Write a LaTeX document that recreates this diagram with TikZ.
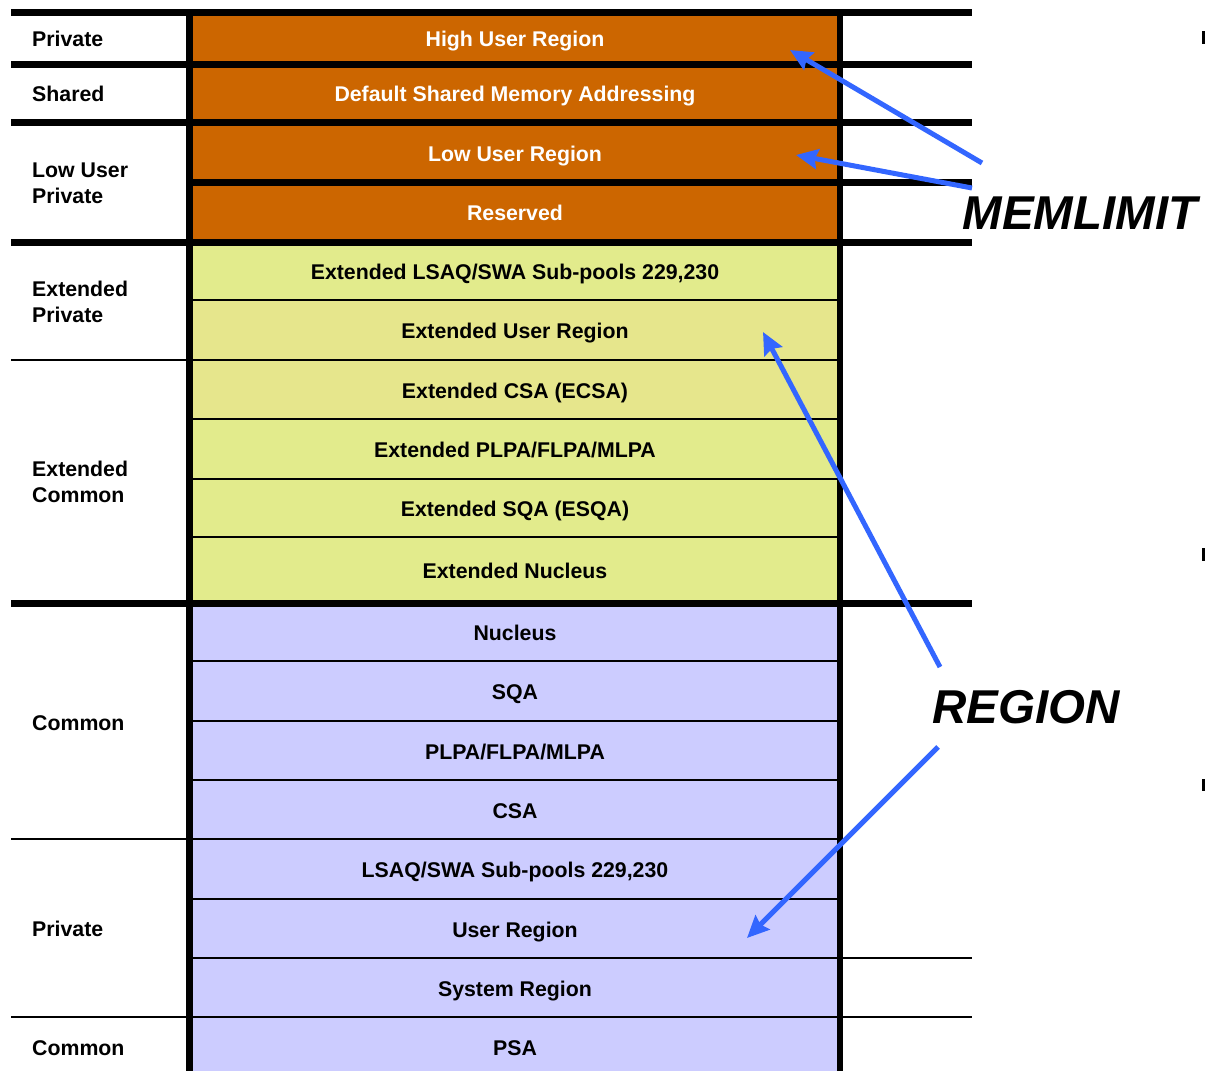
\documentclass[tikz,border=0pt]{standalone}
\usepackage{fontspec}
\setmainfont{Liberation Sans}
\usetikzlibrary{arrows.meta}

\definecolor{hiorange}{HTML}{CC6600}
\definecolor{extgreen}{HTML}{E2EB8C}
\definecolor{extsand}{HTML}{E6E68C}
\definecolor{lowblue}{HTML}{CCCCFF}
\definecolor{pointer}{HTML}{3366FF}

\newcommand{\cellfont}{\fontsize{21.3}{26}\selectfont\bfseries}
\newcommand{\bigfont}{\fontsize{47.5}{50}\selectfont\bfseries\itshape}

\tikzset{
  cell/.style={rectangle, inner sep=0pt, minimum width=650pt,
    text height=17pt, text depth=0pt, font=\cellfont},
  hicell/.style={cell, fill=hiorange, text=white},
  greencell/.style={cell, fill=extgreen},
  sandcell/.style={cell, fill=extsand},
  bluecell/.style={cell, fill=lowblue},
  side/.style={inner sep=0pt, anchor=base west, font=\cellfont},
  heavy/.style={line width=7pt},
  light/.style={line width=2.5pt},
  callout/.style={inner sep=0pt, font=\bigfont},
  pointerline/.style={draw=pointer, line width=5pt,
    -{Stealth[length=22pt, width=20pt, inset=3pt]}},
}

\begin{document}
\begin{tikzpicture}[x=1pt, y=-1pt]
\clip (0,0) rectangle (1205,1071);
\fill[white] (0,0) rectangle (1205,1071);

% column of areas, top to bottom
\node[hicell, minimum height=51.5pt]   (hur)   at (515,38.25)  {High User Region};
\node[hicell, minimum height=58.5pt]   (dsm)   at (515,93.25)  {Default Shared Memory Addressing};
\node[hicell, minimum height=60pt]     (lur)   at (515,152.5)  {Low User Region};
\node[hicell, minimum height=59.5pt]   (rsv)   at (515,212.25) {Reserved};
\node[greencell, minimum height=58pt]  (elsaq) at (515,271)    {Extended LSAQ/SWA Sub-pools 229,230};
\node[sandcell, minimum height=60pt]   (eur)   at (515,330)    {Extended User Region};
\node[sandcell, minimum height=59pt]   (ecsa)  at (515,389.5)  {Extended CSA (ECSA)};
\node[greencell, minimum height=60pt]  (eplpa) at (515,449)    {Extended PLPA/FLPA/MLPA};
\node[greencell, minimum height=58pt]  (esqa)  at (515,508)    {Extended SQA (ESQA)};
\node[greencell, minimum height=66.5pt](enuc)  at (515,570.25) {Extended Nucleus};
\node[bluecell, minimum height=57.5pt] (nuc)   at (515,632.25) {Nucleus};
\node[bluecell, minimum height=60pt]   (sqa)   at (515,691)    {SQA};
\node[bluecell, minimum height=59pt]   (plpa)  at (515,750.5)  {PLPA/FLPA/MLPA};
\node[bluecell, minimum height=59pt]   (csa)   at (515,809.5)  {CSA};
\node[bluecell, minimum height=60pt]   (lsaq)  at (515,869)    {LSAQ/SWA Sub-pools 229,230};
\node[bluecell, minimum height=59pt]   (ur)    at (515,928.5)  {User Region};
\node[bluecell, minimum height=59pt]   (sr)    at (515,987.5)  {System Region};
\node[bluecell, minimum height=60pt]   (psa)   at (515,1047)   {PSA};

% attribute labels on the left
\node[side] (pvt1) at (32,46.6)   {Private};
\node[side] (shr)  at (32,101.6)  {Shared};
\node[side] (lup)  at (32,177.3)  {\parbox[t]{150pt}{\raggedright Low User\\Private}};
\node[side] (epv)  at (32,296.3)  {\parbox[t]{150pt}{\raggedright Extended\\Private}};
\node[side] (ecm)  at (32,476.3)  {\parbox[t]{150pt}{\raggedright Extended\\Common}};
\node[side] (cmn1) at (32,730.3)  {Common};
\node[side] (pvt2) at (32,936.3)  {Private};
\node[side] (cmn2) at (32,1055.3) {Common};

% thin separators inside the column
\foreach \y in {300,419,479,537,661,721,780,899}
  \draw[light] (189.5,\y) -- (840,\y);
% thin separators reaching into the label column
\foreach \y in {360,839}
  \draw[light] (11,\y) -- (840,\y);
\draw[light] (11,1017) -- (972,1017);
\draw[light] (189.5,958) -- (972,958);

% heavy separators
\foreach \y in {12.5,64,122.5,242,603.5}
  \draw[heavy] (11,\y) -- (972,\y);
\draw[heavy] (189.5,182.5) -- (972,182.5);

% column borders
\draw[line width=7pt] (189.5,9) -- (189.5,1071);
\draw[line width=6pt] (840,9) -- (840,1071);

% small marks at the right edge
\fill[black] (1202,31) rectangle (1205,44);
\fill[black] (1202,548) rectangle (1205,561);
\fill[black] (1202,779) rectangle (1205,791);

% callouts
\node[callout] (memlimit) at (1080,213) {MEMLIMIT};
\node[callout] (region)   at (1026,707) {REGION};

\coordinate (m1) at (982,163);
\coordinate (m2) at (972,188);
\coordinate (r1) at (940,667);
\coordinate (r2) at (938,747);
\coordinate (hurtip) at (790,50);
\coordinate (lurtip) at (796,155);
\coordinate (eurtip) at (763,332);
\coordinate (urtip)  at (747,938);

\draw[pointerline] (m1) -- (hurtip);
\draw[pointerline] (m2) -- (lurtip);
\draw[pointerline] (r1) -- (eurtip);
\draw[pointerline] (r2) -- (urtip);
\end{tikzpicture}
\end{document}
